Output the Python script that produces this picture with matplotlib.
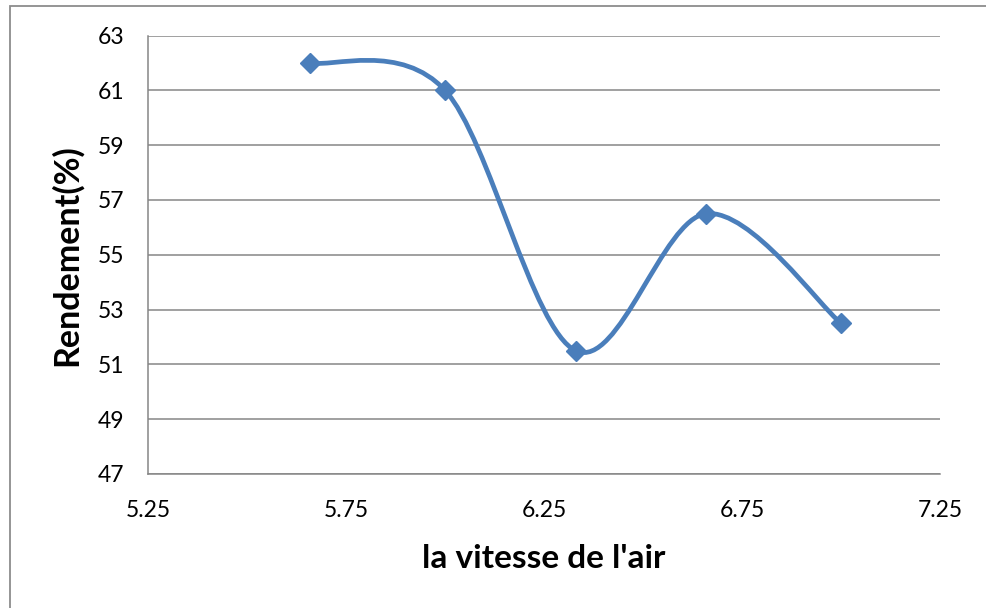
import numpy as np
import matplotlib
matplotlib.use('Agg')
import matplotlib.pyplot as plt
from matplotlib.path import Path
from matplotlib.patches import PathPatch, Rectangle

# air speed vs efficiency
vitesse = [5.66, 6.0, 6.33, 6.66, 7.0]
rendement = [62.0, 61.0, 51.5, 56.5, 52.5]

x_ticks = [5.25, 5.75, 6.25, 6.75, 7.25]
y_ticks = [47, 49, 51, 53, 55, 57, 59, 61, 63]

BLUE = '#4a7ebb'
GRID = '#868686'

plt.rcParams['font.family'] = ['Lato', 'DejaVu Sans']


def smooth_path(xs, ys):
    # spreadsheet-style smoothed line: cubic bezier with catmull-rom tangents
    pts = np.column_stack([xs, ys])
    n = len(pts)
    verts = [pts[0]]
    codes = [Path.MOVETO]
    for i in range(n - 1):
        p0 = pts[max(i - 1, 0)]
        p1 = pts[i]
        p2 = pts[i + 1]
        p3 = pts[min(i + 2, n - 1)]
        c1 = p1 + (p2 - p0) / 6
        c2 = p2 - (p3 - p1) / 6
        verts += [c1, c2, p2]
        codes += [Path.CURVE4] * 3
    return Path(verts, codes)


fig = plt.figure(figsize=(9.87, 6.08), dpi=100)
fig.patches.append(Rectangle((10 / 987, -0.1), 1.1, 1 + 0.1 - 6 / 608,
                             transform=fig.transFigure, fill=False,
                             edgecolor='#8c8c8c', lw=1.3))
ax = fig.add_axes([148 / 987, 1 - 474 / 608, (940 - 148) / 987, (474 - 35.5) / 608])

ax.add_patch(PathPatch(smooth_path(vitesse, rendement), fill=False,
                       edgecolor=BLUE, lw=3.4, capstyle='round', zorder=3))
ax.plot(vitesse, rendement, ls='none', marker='D', ms=10, color=BLUE, zorder=4)

ax.set_xlim(5.25, 7.25)
ax.set_ylim(47, 63)
ax.set_xticks(x_ticks)
ax.set_xticklabels([f'{v:.2f}' for v in x_ticks])
ax.set_yticks(y_ticks)
ax.yaxis.grid(True, color=GRID, lw=1.1)
ax.set_axisbelow(True)
for side in ['top', 'right']:
    ax.spines[side].set_visible(False)
for side in ['left', 'bottom']:
    ax.spines[side].set_color(GRID)
    ax.spines[side].set_linewidth(1.1)
ax.tick_params(length=0, labelsize=16.5, pad=19)
ax.tick_params(axis='y', pad=17)

ax.set_xlabel("la vitesse de l'air", fontsize=24, fontweight='bold', labelpad=16)
ax.set_ylabel('Rendement(%)', fontsize=24.5, fontweight='bold', labelpad=11)

fig.savefig('out.png', dpi=100)
